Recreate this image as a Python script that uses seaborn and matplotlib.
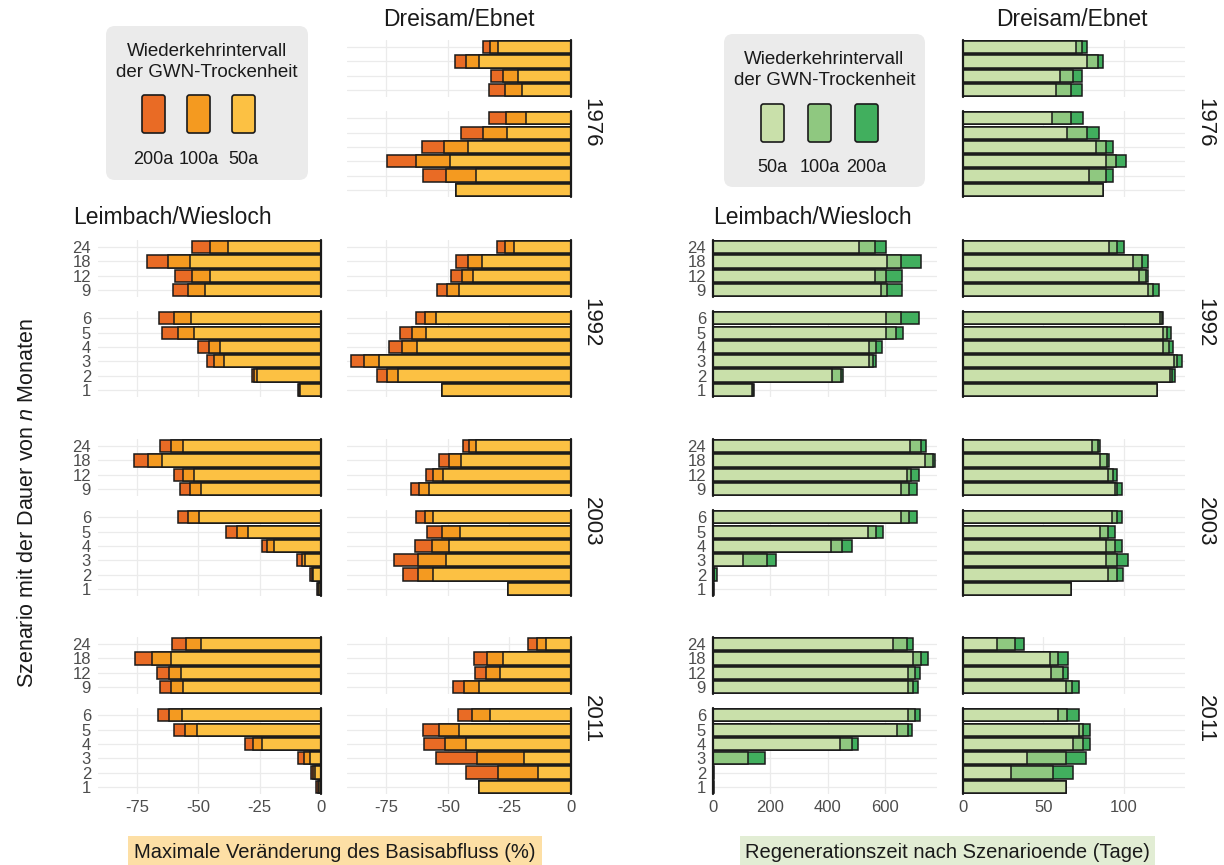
import matplotlib
matplotlib.use("Agg")
import matplotlib.pyplot as plt
import numpy as np
import pandas as pd
import seaborn as sns
from matplotlib.patches import FancyBboxPatch, Rectangle

sns.set_theme(style="white")
plt.rcParams["font.family"] = ["Liberation Sans", "DejaVu Sans"]
plt.rcParams["mathtext.fontset"] = "custom"
plt.rcParams["mathtext.it"] = "Liberation Sans:italic"
plt.rcParams["mathtext.rm"] = "Liberation Sans"
plt.rcParams["axes.unicode_minus"] = False

# Szenariodauer in Monaten (Reihenfolge der Werte in allen Listen)
durations = ["1", "2", "3", "4", "5", "6", "9", "12", "18", "24"]
long_group = ["24", "18", "12", "9"]
short_group = ["6", "5", "4", "3", "2", "1"]
years = ["1976", "1992", "2003", "2011"]
periods = ["50a", "100a", "200a"]

# Maximale Veränderung des Basisabflusses (%)
bf_leimbach_50a = {
    "1992": [-8.4, -26.0, -39.6, -41.1, -51.9, -52.9, -47.4, -45.4, -53.5, -37.8],
    "2003": [-0.8, -3.1, -6.4, -19.3, -29.7, -49.6, -48.9, -51.7, -64.7, -56.3],
    "2011": [-1.0, -2.5, -4.3, -24.2, -50.4, -56.9, -56.3, -57.1, -61.3, -48.9],
}
bf_leimbach_100a = {
    "1992": [-9.0, -27.2, -43.5, -45.8, -58.5, -59.9, -54.2, -52.8, -62.6, -45.4],
    "2003": [-1.2, -3.6, -7.7, -21.9, -34.4, -54.3, -53.5, -56.3, -70.6, -61.3],
    "2011": [-1.4, -3.2, -6.9, -27.8, -55.6, -61.9, -61.3, -62.1, -69.0, -55.0],
}
bf_leimbach_200a = {
    "1992": [-9.4, -28.3, -46.4, -50.1, -64.7, -66.1, -60.3, -59.6, -71.0, -52.5],
    "2003": [-1.7, -4.3, -9.6, -24.2, -38.6, -58.3, -57.4, -60.1, -76.3, -65.6],
    "2011": [-1.9, -4.2, -9.2, -31.1, -60.0, -66.5, -65.6, -66.8, -76.0, -61.0],
}
bf_dreisam_50a = {
    "1976": [-46.6, -38.7, -49.2, -41.8, -25.8, -18.4, -19.8, -21.5, -37.2, -29.6],
    "1992": [-52.5, -70.1, -78.2, -62.6, -58.9, -55.0, -45.5, -39.8, -36.0, -23.3],
    "2003": [-25.6, -56.1, -50.8, -49.4, -45.1, -55.9, -57.8, -52.0, -44.7, -38.5],
    "2011": [-37.4, -13.3, -19.1, -42.5, -45.4, -33.1, -37.3, -28.9, -27.7, -10.1],
}
bf_dreisam_100a = {
    "1976": [-46.6, -50.6, -62.8, -51.7, -35.9, -26.3, -26.8, -27.5, -42.5, -33.0],
    "1992": [-52.5, -74.9, -84.1, -68.7, -64.5, -59.4, -50.3, -44.4, -41.8, -27.0],
    "2003": [-25.6, -62.0, -62.0, -56.6, -52.4, -59.2, -61.7, -55.9, -49.6, -41.5],
    "2011": [-37.4, -29.6, -38.0, -51.0, -53.6, -40.1, -43.3, -34.6, -34.1, -13.8],
}
bf_dreisam_200a = {
    "1976": [-46.6, -60.3, -74.6, -60.6, -44.7, -33.4, -33.2, -32.7, -47.3, -35.6],
    "1992": [-52.5, -78.9, -89.2, -73.9, -69.6, -63.1, -54.5, -48.6, -46.6, -29.9],
    "2003": [-25.6, -68.4, -72.1, -63.5, -58.4, -63.1, -64.8, -58.9, -53.8, -43.9],
    "2011": [-37.4, -42.5, -54.9, -59.6, -60.2, -45.8, -47.8, -39.2, -39.4, -17.3],
}

# Regenerationszeit nach Szenarioende (Tage)
rz_leimbach_50a = {
    "1992": [136, 416, 543, 543, 601, 601, 584, 563, 605, 510],
    "2003": [1, 2, 103, 410, 538, 654, 654, 677, 737, 686],
    "2011": [1, 1, 0, 443, 639, 680, 680, 680, 697, 627],
}
rz_leimbach_100a = {
    "1992": [139, 447, 558, 567, 638, 655, 605, 601, 656, 563],
    "2003": [1, 4, 187, 450, 569, 682, 682, 689, 765, 725],
    "2011": [1, 1, 121, 483, 678, 702, 697, 702, 725, 677],
}
rz_leimbach_200a = {
    "1992": [144, 453, 569, 588, 660, 718, 657, 657, 723, 601],
    "2003": [2, 14, 218, 485, 592, 712, 712, 718, 773, 740],
    "2011": [2, 2, 182, 506, 694, 720, 714, 720, 749, 695],
}
rz_dreisam_50a = {
    "1976": [87.2, 78.2, 89.1, 82.9, 64.9, 55.2, 57.8, 60.0, 77.1, 70.0],
    "1992": [120.6, 128.9, 131.3, 124.2, 124.2, 122.3, 115.2, 109.2, 105.4, 91.0],
    "2003": [67.2, 90.4, 89.1, 89.1, 85.0, 92.5, 94.2, 90.4, 85.0, 80.1],
    "2011": [64.2, 30.0, 40.0, 68.1, 72.2, 58.9, 64.0, 55.0, 54.0, 21.2],
}
rz_dreisam_100a = {
    "1976": [87.2, 89.1, 95.1, 89.1, 77.1, 67.0, 67.2, 68.1, 83.9, 73.7],
    "1992": [120.6, 130.0, 133.2, 128.1, 126.8, 123.8, 118.4, 113.9, 111.3, 95.9],
    "2003": [67.2, 95.5, 95.5, 94.4, 90.4, 95.5, 95.7, 93.4, 89.3, 83.9],
    "2011": [64.2, 56.1, 64.2, 74.9, 74.9, 64.9, 67.9, 61.9, 58.9, 32.1],
}
rz_dreisam_200a = {
    "1976": [87.2, 93.4, 101.5, 93.4, 84.4, 74.9, 73.9, 73.9, 87.2, 77.1],
    "1992": [120.6, 131.5, 136.4, 130.6, 129.1, 124.6, 121.6, 115.2, 115.2, 100.2],
    "2003": [67.2, 99.6, 102.6, 98.7, 94.4, 98.7, 98.7, 95.5, 90.6, 85.4],
    "2011": [64.2, 68.1, 76.4, 79.2, 79.2, 72.4, 72.4, 65.1, 65.1, 37.9],
}

bf_colors = {"200a": "#E96B25", "100a": "#F49A20", "50a": "#FCC143"}
rz_colors = {"50a": "#C9E0AA", "100a": "#8FC880", "200a": "#41AF5E"}

# Long table: metric, site, year, duration, return period, value
tables = [
    ("bf", "Leimbach", "50a", bf_leimbach_50a), ("bf", "Leimbach", "100a", bf_leimbach_100a),
    ("bf", "Leimbach", "200a", bf_leimbach_200a), ("bf", "Dreisam", "50a", bf_dreisam_50a),
    ("bf", "Dreisam", "100a", bf_dreisam_100a), ("bf", "Dreisam", "200a", bf_dreisam_200a),
    ("rz", "Leimbach", "50a", rz_leimbach_50a), ("rz", "Leimbach", "100a", rz_leimbach_100a),
    ("rz", "Leimbach", "200a", rz_leimbach_200a), ("rz", "Dreisam", "50a", rz_dreisam_50a),
    ("rz", "Dreisam", "100a", rz_dreisam_100a), ("rz", "Dreisam", "200a", rz_dreisam_200a),
]
rows = []
for metric, site, period, table in tables:
    for year, vals in table.items():
        for d, v in zip(durations, vals):
            rows.append((metric, site, year, d, period, v))
df = pd.DataFrame(rows, columns=["metric", "site", "year", "dauer", "period", "value"])

W, H = 1224, 865
fig = plt.figure(figsize=(W / 100, H / 100), dpi=100)


def add_ax(x0, x1, y0, y1):
    return fig.add_axes([x0 / W, 1 - y1 / H, (x1 - x0) / W, (y1 - y0) / H])


row_tops = [40, 240, 439, 637]
unit = 14.3
gap = 14

layout = {
    "bf": {
        "Leimbach": ((98, 321), (-91, 0), [-75, -50, -25, 0]),
        "Dreisam": ((347, 571), (-91, 0), [-75, -50, -25, 0]),
    },
    "rz": {
        "Leimbach": ((713, 937), (0, 780), [0, 200, 400, 600]),
        "Dreisam": ((963, 1185), (0, 138), [0, 50, 100]),
    },
}
draw_order = ["200a", "100a", "50a"]

for metric, cols in layout.items():
    colors = bf_colors if metric == "bf" else rz_colors
    for site, ((x0, x1), xlim, ticks) in cols.items():
        for r, year in enumerate(years):
            sub = df[(df.metric == metric) & (df.site == site) & (df.year == year)]
            if sub.empty:
                continue
            top = row_tops[r]
            spans = [
                (long_group, top, top + 4 * unit),
                (short_group, top + 4 * unit + gap, top + 10 * unit + gap),
            ]
            for gi, (group, y0, y1) in enumerate(spans):
                ax = add_ax(x0, x1, y0, y1)
                for p in draw_order:
                    sns.barplot(
                        data=sub[(sub.period == p) & (sub.dauer.isin(group))],
                        x="value", y="dauer", order=group, orient="h",
                        color=colors[p], saturation=1, edgecolor="#1a1a1a",
                        linewidth=1.1, width=0.85, errorbar=None, ax=ax,
                    )
                ax.set_xlim(*xlim)
                ax.set_ylim(len(group) - 0.5, -0.5)
                ax.set_xticks(ticks)
                ax.set_xlabel("")
                ax.set_ylabel("")
                ax.grid(True, color="#EBEBEB", lw=0.9)
                ax.set_axisbelow(True)
                for s in ax.spines.values():
                    s.set_visible(False)
                ax.axvline(0, color="#1a1a1a", lw=1.6, clip_on=False, zorder=6)
                ax.tick_params(length=0, labelsize=12, labelcolor="#4D4D4D", pad=4)
                ax.tick_params(axis="y", pad=5)
                if site == "Dreisam":
                    ax.tick_params(labelleft=False)
                if not (r == 3 and gi == 1):
                    ax.tick_params(labelbottom=False)

# Overlay in pixel coordinates for titles, legends and axis captions
ov = fig.add_axes([0, 0, 1, 1])
ov.set_xlim(0, W)
ov.set_ylim(H, 0)
ov.axis("off")

big = 16
ov.text(459, 20, "Dreisam/Ebnet", fontsize=16.5, ha="center", va="center", color="#1a1a1a")
ov.text(1072, 20, "Dreisam/Ebnet", fontsize=16.5, ha="center", va="center", color="#1a1a1a")
ov.text(73, 218, "Leimbach/Wiesloch", fontsize=16.5, ha="left", va="center", color="#1a1a1a")
ov.text(713, 218, "Leimbach/Wiesloch", fontsize=16.5, ha="left", va="center", color="#1a1a1a")

for r, year in enumerate(years):
    yc = row_tops[r] + (10 * unit + gap) / 2 + 4
    ov.text(591, yc, year, fontsize=big, rotation=270, ha="center", va="center", color="#1a1a1a")
    ov.text(1205, yc, year, fontsize=big, rotation=270, ha="center", va="center", color="#1a1a1a")

ov.text(28, 503, "Szenario mit der Dauer von $n$ Monaten", fontsize=15.5, rotation=90,
        ha="center", va="center", color="#1a1a1a")

# Axis captions with tinted background
ov.add_patch(Rectangle((128, 836), 414, 30, fc="#FDDFA5", ec="none"))
ov.text(335, 852, "Maximale Veränderung des Basisabfluss (%)", fontsize=14.5,
        ha="center", va="center", color="#1a1a1a")
ov.add_patch(Rectangle((740, 836), 415, 30, fc="#E2EDD4", ec="none"))
ov.text(947, 852, "Regenerationszeit nach Szenarioende (Tage)", fontsize=14.5,
        ha="center", va="center", color="#1a1a1a")


def legend(box, title_y, key_x, key_y, labels, cols, label_y):
    bx, by, bw, bh = box
    ov.add_patch(FancyBboxPatch((bx, by), bw, bh, boxstyle="round,pad=0,rounding_size=9",
                                fc="#EBEBEB", ec="none"))
    ov.text(bx + bw / 2, title_y, "Wiederkehrintervall\nder GWN-Trockenheit", fontsize=13.5,
            ha="center", va="center", linespacing=1.3, color="#1a1a1a")
    for kx, lab, c in zip(key_x, labels, cols):
        ov.add_patch(FancyBboxPatch((kx, key_y), 23, 38, boxstyle="round,pad=0,rounding_size=2.5",
                                    fc=c, ec="#1a1a1a", lw=1.2))
        ov.text(kx + 11.5, label_y, lab, fontsize=13, ha="center", va="center", color="#1a1a1a")


legend((106, 26, 202, 154), 62, [142, 187, 232], 95, ["200a", "100a", "50a"],
       [bf_colors["200a"], bf_colors["100a"], bf_colors["50a"]], 160)
legend((724, 34, 201, 153), 70, [761, 808, 855], 104, ["50a", "100a", "200a"],
       [rz_colors["50a"], rz_colors["100a"], rz_colors["200a"]], 168)

fig.savefig("out.png", dpi=100)
